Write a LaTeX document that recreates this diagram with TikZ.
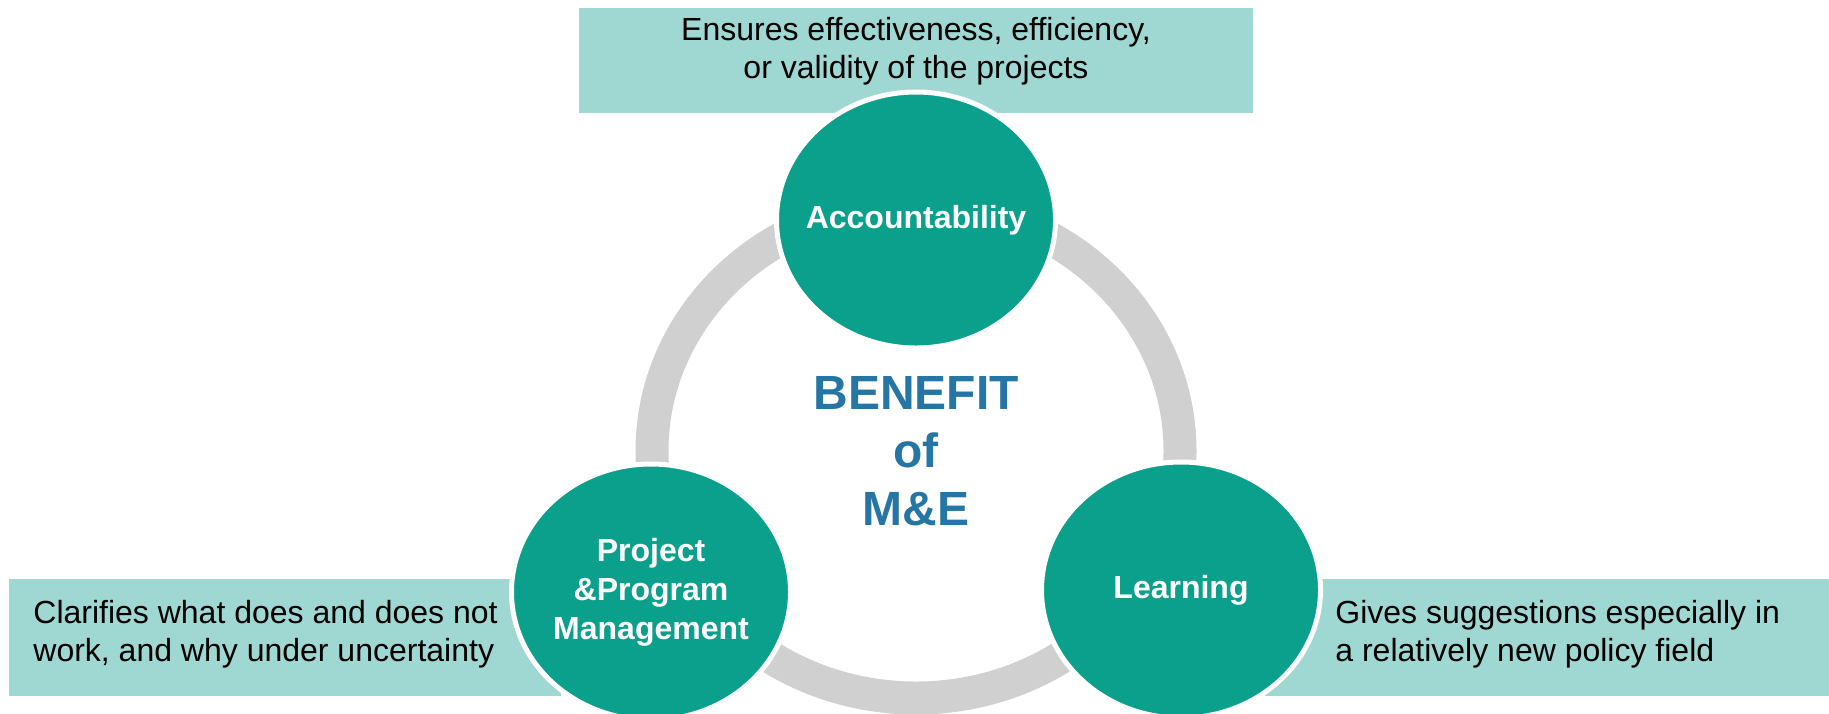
\documentclass[tikz,border=0pt]{standalone}
\usepackage{fontspec}
\setmainfont{Liberation Sans}
\usepackage{tikz}
\usetikzlibrary{shapes.geometric}

\definecolor{circteal}{HTML}{0BA08C}
\definecolor{boxteal}{HTML}{9FD8D2}
\definecolor{ringgray}{HTML}{D0D0D0}
\definecolor{titleblue}{HTML}{2576A4}

\begin{document}
\begin{tikzpicture}[x=0.5pt,y=-0.5pt,%1 unit = 1 px, y down
        font=\fontsize{16}{19}\selectfont,inner sep=0pt,
        infobox/.style={fill=boxteal,minimum height=58.5pt},
        benefit/.style={ellipse,fill=circteal,draw=white,line width=2.5pt,inner sep=-25pt,
            minimum width=139.5pt,minimum height=128pt,text=white,align=center,
            font=\fontsize{16}{19.5}\selectfont\bfseries}]

    \useasboundingbox (0,0) rectangle (1829,713);

    % description boxes
    \node (accbox) [infobox,minimum width=337pt,minimum height=52.5pt] at (916,60.5) {};
    \node (mgmtbox) [infobox,minimum width=276pt] at (285,637.5) {};
    \node (learnbox) [infobox,minimum width=282pt] at (1547,637.5) {};

    \node (acctext) [align=center] at (916,51) {Ensures effectiveness, efficiency,\\or validity of the projects};
    \node (mgmttext) [anchor=west,align=left] at (33,634) {Clarifies what does and does not\\work, and why under uncertainty};
    \node (learntext) [anchor=west,align=left] at (1335,634) {Gives suggestions especially in\\a relatively new policy field};

    % ring behind the circles
    \coordinate (hub) at (916,451);
    \draw[ringgray,line width=16.5pt] (hub) ellipse[x radius=132pt,y radius=123.5pt];

    % the three benefits
    \node (acc) [benefit] at (916,220) {Accountability};
    \node (mgmt) [benefit] at (651,592) {Project\\\&Program\\Management};
    \node (learn) [benefit] at (1181,590) {Learning};

    \node (title) [text=titleblue,align=center,font=\fontsize{24}{29}\selectfont\bfseries] at (916,451) {BENEFIT\\of\\M\&E};
\end{tikzpicture}
\end{document}
